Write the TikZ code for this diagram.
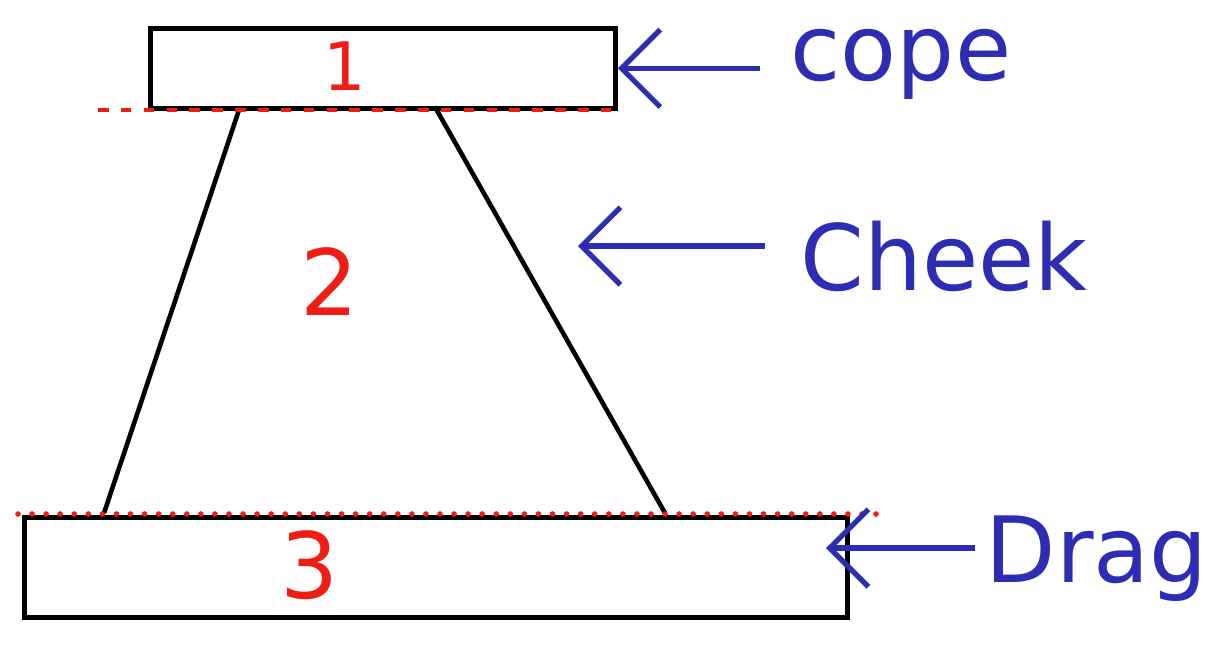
\documentclass[tikz,border=0pt]{standalone}
\usepackage{fontspec}
\setmainfont{DejaVu Sans}
\usetikzlibrary{positioning, arrows.meta}
\definecolor{inkblue}{HTML}{2D2DB4}
\definecolor{inkred}{HTML}{F01C16}

\begin{document}
\begin{tikzpicture}[
    x=0.01cm, y=-0.01cm,
    box/.style={draw, line width=1.3pt, inner sep=0pt, anchor=north west},
    partnum/.style={text=inkred, font=\fontsize{26}{26}\selectfont},
    partname/.style={text=inkblue, font=\fontsize{26}{26}\selectfont,
                     anchor=base west, inner sep=0pt},
    parting/.style={inkred, line width=1.3pt, dash pattern=on 3pt off 3.5pt},
    wall/.style={line width=1.3pt},
    pointer/.style={-{Straight Barb[length=11pt, width=22pt, line width=1.5pt]},
                    inkblue, line width=1.6pt},
]
\useasboundingbox (0,0) rectangle (1224,669);

% === Cope and drag boxes ===
\node[box, minimum width=4.65cm, minimum height=0.8cm] (cope) at (148,26) {};
\node[box, minimum width=8.23cm, minimum height=1.0cm] (drag) at (22,515) {};

% === Cheek walls ===
\coordinate (cheektl) at (240,107);
\coordinate (cheektr) at (435,107);
\coordinate (cheekbl) at (104,513);
\coordinate (cheekbr) at (665,513);
\draw[wall] (cheektl) -- (cheekbl);
\draw[wall] (cheektr) -- (cheekbr);

% === Parting lines ===
\coordinate (topa) at (98,110);
\coordinate (topb) at (622,110);
\coordinate (bota) at (18,514);
\coordinate (botb) at (882,514);
\draw[parting] (topa) -- (topb);
\draw[parting, line width=1.6pt, line cap=round, dash pattern=on 0pt off 4pt]
  (bota) -- (botb);

% === Part numbers ===
\node[partnum, font=\fontsize{19}{19}\selectfont] (num1) at (345,66) {1};
\node[partnum] (num2) at (330,282) {2};
\node[partnum] (num3) at (310,565) {3};

% === Names ===
\node[partname] (copetext) at (790,80) {cope};
\node[partname] (cheektext) at (800,290) {Cheek};
\node[partname] (dragtext) at (985,582) {Drag};

% === Pointers ===
\coordinate (cheekpt) at (578,246);
\coordinate (dragpt) at (826,548);
\draw[pointer, shorten <=0.3cm] (copetext.west |- cope.east) -- (cope.east);
\draw[pointer, shorten <=0.35cm] (cheektext.west |- cheekpt) -- (cheekpt);
\draw[pointer, shorten <=0.1cm] (dragtext.west |- dragpt) -- (dragpt);

\end{tikzpicture}
\end{document}
